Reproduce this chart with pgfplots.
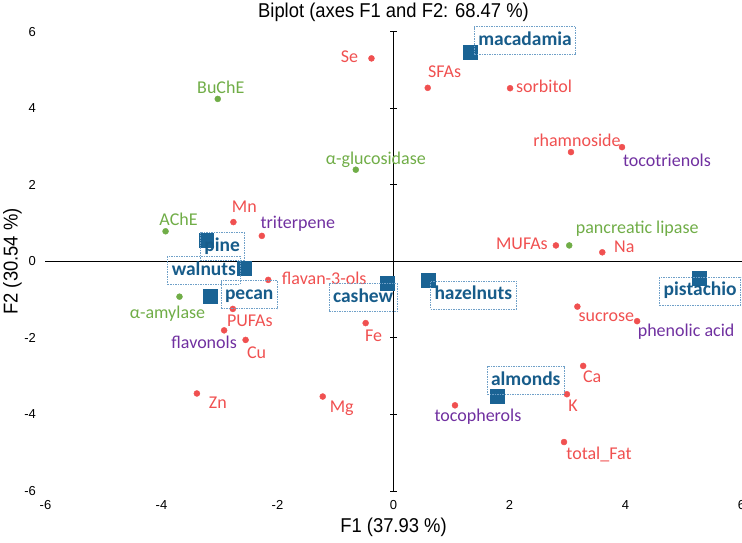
\documentclass[border=0pt]{standalone}
\usepackage{fontspec}
\setmainfont{Carlito}
\newfontfamily\arialf{Liberation Sans}
\usepackage{pgfplots}
\usepackage{pgfplotstable}
\pgfplotsset{compat=1.18}

\definecolor{vred}{HTML}{F05050}
\definecolor{vgreen}{HTML}{70AD47}
\definecolor{vpurple}{HTML}{7030A0}
\definecolor{nutblue}{HTML}{1A6394}
\definecolor{nuttext}{HTML}{175C8A}
\definecolor{boxblue}{HTML}{6FA0C8}

% variables: x y label-offset(dx,dy in pt) name
\pgfplotstableread{
x y dx dy name
-0.38 5.31 -22 2 Se
0.59 4.54 17 16 SFAs
2.01 4.53 34 2 sorbitol
3.06 2.86 6 12 rhamnoside
-2.76 1.03 11 15 Mn
-2.16 -0.48 56 2 flavan-3-ols
-2.77 -1.24 17 -12 PUFAs
-2.55 -2.05 11 -13 Cu
-0.48 -1.61 8 -13 Fe
2.80 0.42 -34 2 MUFAs
3.60 0.24 22 6 Na
3.17 -1.18 29 -11 sucrose
-3.39 -3.45 21 -9 Zn
-1.22 -3.53 19 -12 Mg
3.27 -2.73 9 -11 Ca
2.99 -3.47 6 -11 K
2.94 -4.72 35 -12 total\_Fat
}\redtab

\pgfplotstableread{
x y dx dy name
3.94 2.99 45 -13 tocotrienols
-2.27 0.67 36 12 triterpene
-2.92 -1.80 -20 -12 flavonols
4.20 -1.56 49 -11 {phenolic acid}
1.06 -3.76 23 -11 tocopherols
}\purptab

\pgfplotstableread{
x y dx dy name
-3.03 4.25 3 12 BuChE
-0.65 2.40 20 10 α-glucosidase
-3.93 0.79 13 12 AChE
-3.69 -0.92 -12 -17 α-amylase
3.03 0.42 68 17 {pancreatic lipase}
}\greentab

\pgfplotstableread{
x y dx dy name
1.32 5.46 55 12 macadamia
-3.23 0.55 16 -6 pine
-2.58 -0.18 -40 -2 walnuts
-3.16 -0.92 39 2 pecan
-0.11 -0.58 -24 -14 cashew
0.60 -0.48 45 -15 hazelnuts
5.27 -0.43 1 -13 pistachio
1.78 -3.53 29 16 almonds
}\nuttab

\newcommand\lbl{\fontsize{18}{20}\selectfont}

\begin{document}
\begin{tikzpicture}
\begin{axis}[
  scale only axis, width=696pt, height=459pt,
  xmin=-6, xmax=6, ymin=-6, ymax=6,
  axis line style={draw=none}, major tick length=0pt,
  xtick={-6,-4,...,6}, ytick={-6,-4,...,6},
  tick label style={font=\arialf\fontsize{13}{13}\selectfont},
  xticklabel style={yshift=-6pt},
  yticklabel style={xshift=-6pt},
  /pgf/number format/assume math mode=true,
  xlabel={\scalebox{0.92}[1]{F1 (37.93 \%)}},
  xlabel style={font=\arialf\fontsize{20}{22}\selectfont, at={(axis description cs:0.5,-0.0784)}, anchor=center},
  ylabel={\scalebox{0.92}[1]{F2 (30.54 \%)}},
  ylabel style={font=\arialf\fontsize{20}{22}\selectfont, at={(axis description cs:-0.0474,0.5)}, anchor=center},
  clip=false,
  lbl/.style={nodes near coords, point meta=explicit symbolic,
    visualization depends on={\thisrow{dx} \as \dx},
    visualization depends on={\thisrow{dy} \as \dy},
    every node near coord/.append style={anchor=center, xshift=\dx pt, yshift=\dy pt}},
]
% title
\node[font=\arialf\fontsize{20}{22}\selectfont, anchor=center]
  at (axis description cs:0.5,1.0436) {\scalebox{0.92}[1]{Biplot (axes F1 and F2: 68.47 \%)}};
% centre lines with cross ticks
\draw[black, line width=1pt] (axis cs:-6,0) -- (axis cs:6,0);
\draw[black, line width=1pt] (axis cs:0,-6) -- (axis cs:0,6);
\pgfplotsinvokeforeach{-6,-4,-2,2,4,6}{
  \draw[black, line width=1pt] ([xshift=-3.5pt]axis cs:0,#1) -- ([xshift=3.5pt]axis cs:0,#1);
}

\addplot[only marks, mark=*, mark size=3pt, color=vred, lbl,
  every node near coord/.append style={font=\lbl, text=vred}]
  table[x=x, y=y, meta=name]{\redtab};

\addplot[only marks, mark=*, mark size=3pt, color=vred, lbl,
  every node near coord/.append style={font=\lbl, text=vpurple}]
  table[x=x, y=y, meta=name]{\purptab};

\addplot[only marks, mark=*, mark size=3pt, color=vgreen, lbl,
  every node near coord/.append style={font=\lbl, text=vgreen}]
  table[x=x, y=y, meta=name]{\greentab};

\addplot[only marks, mark=square*, mark size=7pt, color=nutblue, lbl,
  every node near coord/.append style={
    font=\bfseries\fontsize{19.5}{20}\selectfont, text=nuttext,
    draw=boxblue, dash pattern=on 1.5pt off 1pt, line width=0.7pt,
    inner xsep=4pt, inner ysep=5pt, text height=14pt, text depth=4pt}]
  table[x=x, y=y, meta=name]{\nuttab};

\coordinate (SW) at (rel axis cs:0,0);
\coordinate (NE) at (rel axis cs:1,1);
\end{axis}
\pgfresetboundingbox
\useasboundingbox ([shift={(-45.5pt,-51pt)}]SW) rectangle ([shift={(0.5pt,32pt)}]NE);
\end{tikzpicture}
\end{document}
